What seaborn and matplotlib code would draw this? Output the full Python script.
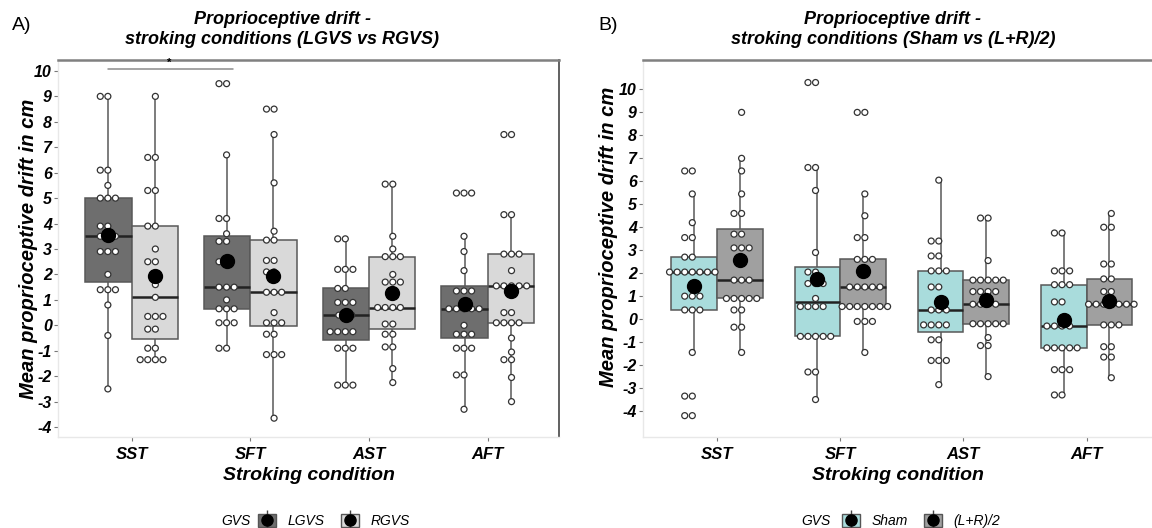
import matplotlib
matplotlib.use("Agg")
import numpy as np
import pandas as pd
import matplotlib.pyplot as plt
from matplotlib.patches import Patch
from matplotlib.lines import Line2D
from matplotlib.legend_handler import HandlerTuple
import seaborn as sns

# categories
conditions = ["SST", "SFT", "AST", "AFT"]
y_ticks = list(range(-4, 11))

# Panel A: LGVS vs RGVS
a_groups = ["LGVS", "RGVS"]
a_sst_l = [9.0, 9.0, 6.1, 6.1, 5.5, 5.0, 5.0, 5.0, 3.9, 3.9, 3.5, 3.5, 3.5, 2.9, 2.9, 2.9,
           2.0, 1.4, 1.4, 1.4, 0.8, -0.4, -2.5]
a_sst_r = [9.0, 6.6, 6.6, 5.3, 5.3, 3.9, 3.9, 3.0, 2.5, 2.5, 1.6, 1.1, 0.35, 0.35, 0.35,
           -0.15, -0.15, -0.9, -0.9, -1.35, -1.35, -1.35, -1.35]
a_sft_l = [9.5, 9.5, 6.7, 4.2, 4.2, 3.6, 3.3, 3.3, 2.5, 2.5, 1.5, 1.5, 1.5, 1.0, 0.65, 0.65,
           0.65, 0.1, 0.1, 0.1, -0.9, -0.9]
a_sft_r = [8.5, 8.5, 7.5, 5.6, 3.7, 3.35, 3.35, 2.55, 2.55, 2.1, 2.1, 1.3, 1.3, 1.3, 0.5,
           0.1, 0.1, 0.1, -0.35, -0.35, -1.15, -1.15, -1.15, -3.65]
a_ast_l = [3.4, 3.4, 2.2, 2.2, 2.2, 1.45, 1.45, 0.9, 0.9, 0.9, 0.4, 0.4, 0.25, -0.25, -0.25,
           -0.25, -0.25, -0.9, -0.9, -0.9, -2.35, -2.35, -2.35]
a_ast_r = [5.55, 5.55, 3.5, 3.0, 2.7, 2.7, 2.7, 2.0, 1.7, 1.7, 1.7, 0.7, 0.7, 0.7, 0.7,
           0.05, 0.05, -0.35, -0.35, -0.85, -0.85, -1.7, -2.25]
a_aft_l = [5.2, 5.2, 5.2, 3.5, 2.9, 2.15, 1.35, 1.35, 1.35, 0.65, 0.65, 0.65, 0.65, 0.65,
           0.0, -0.35, -0.35, -0.35, -0.9, -0.9, -0.9, -1.95, -1.95, -3.3]
a_aft_r = [7.5, 7.5, 4.35, 4.35, 2.8, 2.8, 2.8, 2.15, 1.55, 1.55, 1.55, 1.55, 1.55, 0.5,
           0.5, 0.1, 0.1, 0.1, 0.1, -0.5, -1.05, -1.35, -1.35, -2.05, -3.0]

# Panel B: Sham vs (L+R)/2
b_groups = ["Sham", "(L+R)/2"]
b_sst_s = [6.45, 6.45, 5.45, 4.2, 3.55, 3.55, 2.7, 2.7, 2.05, 2.05, 2.05, 2.05, 2.05, 2.05,
           2.05, 1.0, 1.0, 1.0, 0.4, 0.4, 0.4, -1.45, -3.35, -3.35, -4.2, -4.2]
b_sst_a = [9.0, 7.0, 6.45, 5.45, 4.6, 4.6, 3.7, 3.7, 3.1, 3.1, 3.1, 1.7, 1.7, 1.7, 0.9, 0.9,
           0.9, 0.9, 0.9, 0.4, 0.4, -0.35, -0.35, -1.45]
b_sft_s = [10.3, 10.3, 6.6, 6.6, 5.6, 2.9, 2.05, 2.05, 1.55, 1.55, 1.55, 0.9, 0.55, 0.55,
           0.55, 0.55, -0.75, -0.75, -0.75, -0.75, -0.75, -2.3, -2.3, -3.5]
b_sft_a = [9.0, 9.0, 5.45, 4.5, 3.55, 3.55, 2.6, 2.6, 2.6, 1.4, 1.4, 1.4, 1.4, 1.4, 0.55,
           0.55, 0.55, 0.55, 0.55, 0.55, 0.55, -0.1, -0.1, -0.1, -1.45]
b_ast_s = [6.05, 3.4, 3.4, 2.75, 2.75, 2.1, 2.1, 2.1, 1.4, 1.4, 0.4, 0.4, 0.4, -0.25, -0.25,
           -0.25, -0.25, -0.9, -0.9, -1.8, -1.8, -1.8, -2.85]
b_ast_a = [4.4, 4.4, 2.55, 1.7, 1.7, 1.7, 1.7, 1.7, 1.2, 1.2, 1.2, 1.2, 0.65, 0.65, 0.65,
           0.65, -0.2, -0.2, -0.2, -0.2, -0.2, -0.8, -1.15, -1.15, -2.5]
b_aft_s = [3.75, 3.75, 2.1, 2.1, 2.1, 1.5, 1.5, 1.5, 0.75, 0.75, -0.3, -0.3, -0.3, -0.3,
           -1.25, -1.25, -1.25, -1.25, -1.25, -2.2, -2.2, -2.2, -3.3, -3.3]
b_aft_a = [4.6, 4.0, 4.0, 2.4, 2.4, 1.75, 1.75, 1.2, 1.2, 0.65, 0.65, 0.65, 0.65, 0.65, 0.65,
           0.65, -0.25, -0.25, -0.25, -1.2, -1.2, -1.65, -1.65, -2.55]

a_colors = ["#6e6e6e", "#d9d9d9"]
b_colors = ["#a9dcdc", "#a0a0a0"]


def long_table(pairs, groups):
    rows = []
    for cond, pair in zip(conditions, pairs):
        for g, vals in zip(groups, pair):
            for v in vals:
                rows.append((cond, g, v))
    return pd.DataFrame(rows, columns=["condition", "GVS", "drift"])


df_a = long_table([(a_sst_l, a_sst_r), (a_sft_l, a_sft_r),
                   (a_ast_l, a_ast_r), (a_aft_l, a_aft_r)], a_groups)
df_b = long_table([(b_sst_s, b_sst_a), (b_sft_s, b_sft_a),
                   (b_ast_s, b_ast_a), (b_aft_s, b_aft_a)], b_groups)

sns.set_theme(style="white")
plt.rcParams["font.family"] = ["Liberation Sans", "DejaVu Sans"]
plt.rcParams["text.color"] = "black"
plt.rcParams["axes.labelcolor"] = "black"
plt.rcParams["xtick.labelcolor"] = "black"
plt.rcParams["ytick.labelcolor"] = "black"

fig = plt.figure(figsize=(11.52, 5.28), dpi=100)
ax_a = fig.add_axes([58 / 1152, 91 / 528, 501 / 1152, 377 / 528])
ax_b = fig.add_axes([643 / 1152, 91 / 528, 509 / 1152, 377 / 528])


def draw_panel(ax, df, groups, colors, width):
    pal = dict(zip(groups, colors))
    sns.boxplot(data=df, x="condition", y="drift", hue="GVS", order=conditions,
                hue_order=groups, palette=pal, saturation=1, width=width, gap=0,
                showfliers=False, showcaps=False, showmeans=True,
                linecolor="#585858", linewidth=1.1,
                medianprops=dict(color="#222222", linewidth=1.8),
                meanprops=dict(marker="o", markerfacecolor="black",
                               markeredgecolor="black", markersize=10, zorder=6),
                legend=False, ax=ax)
    sns.swarmplot(data=df, x="condition", y="drift", hue="GVS", order=conditions,
                  hue_order=groups, palette=dict(zip(groups, ["white", "white"])),
                  dodge=True, size=4.3, edgecolor="#333333", linewidth=0.9,
                  legend=False, ax=ax, zorder=4)
    ax.set_yticks(y_ticks)
    ax.set_yticklabels([str(t) for t in y_ticks], fontsize=11.5, fontweight="bold",
                       fontstyle="italic")
    ax.set_xticks(range(len(conditions)))
    ax.set_xticklabels(conditions, fontsize=12, fontweight="bold", fontstyle="italic")
    ax.tick_params(axis="y", length=3, width=0.8, color="#777777", pad=1.5, left=True)
    ax.tick_params(axis="x", length=3, width=0.8, color="#777777", pad=4, bottom=True)
    ax.set_xlabel("Stroking condition", fontsize=14, fontweight="bold", fontstyle="italic")
    ax.xaxis.set_label_coords(0.5, -0.08)
    ax.grid(False)
    for side in ["left", "bottom"]:
        ax.spines[side].set_color("#e8e8e8")
        ax.spines[side].set_linewidth(1)
    ax.spines["top"].set_color("#808080")
    ax.spines["top"].set_linewidth(1.8)


draw_panel(ax_a, df_a, a_groups, a_colors, 0.78)
draw_panel(ax_b, df_b, b_groups, b_colors, 0.74)

ylab_kw = dict(fontsize=14.5, fontweight="bold", fontstyle="italic")
ax_a.set_ylabel("Mean proprioceptive drift in cm", **ylab_kw)
ax_a.yaxis.set_label_coords(-0.04, 0.5)
ax_b.set_ylabel("Mean proprioceptive drift in cm", **ylab_kw)
ax_b.yaxis.set_label_coords(-0.05, 0.53)

ax_a.set_xlim(-0.62, 3.6)
ax_a.set_ylim(-4.39, 10.43)
ax_a.spines["right"].set_color("#606060")
ax_a.spines["right"].set_linewidth(1.4)

ax_b.set_xlim(-0.6, 3.53)
ax_b.set_ylim(-5.13, 11.28)
ax_b.spines["right"].set_visible(False)

# significance bracket SST vs SFT (LGVS)
ax_a.plot([-0.2, 0.85], [10.08, 10.08], color="#8c8c8c", linewidth=1.1, zorder=3)
ax_a.text(0.32, 10.12, "*", ha="center", va="bottom", fontsize=8, fontweight="bold")

# titles and panel letters
title_kw = dict(ha="center", va="center", fontsize=13, fontweight="bold", fontstyle="italic")
fig.text(282 / 1152, 1 - 20 / 528, "Proprioceptive drift -", **title_kw)
fig.text(282 / 1152, 1 - 40 / 528, "stroking conditions (LGVS vs RGVS)", **title_kw)
fig.text(893 / 1152, 1 - 20 / 528, "Proprioceptive drift -", **title_kw)
fig.text(893 / 1152, 1 - 40 / 528, "stroking conditions (Sham vs (L+R)/2)", **title_kw)
fig.text(12 / 1152, 1 - 25 / 528, "A)", ha="left", va="center", fontsize=14)
fig.text(598 / 1152, 1 - 25 / 528, "B)", ha="left", va="center", fontsize=14)


def add_legend(ax, groups, colors, title_x, center_x):
    handles = []
    for c in colors:
        handles.append((Patch(facecolor=c, edgecolor="#555555", linewidth=1),
                        Line2D([], [], linestyle="none", marker="|", markersize=15,
                               color="#444444", markeredgewidth=1),
                        Line2D([], [], linestyle="none", marker="o", markersize=8,
                               markerfacecolor="black", markeredgecolor="black")))
    ax.legend(handles, groups, handler_map={tuple: HandlerTuple(ndivide=1)},
              ncol=2, frameon=False, loc="center",
              bbox_to_anchor=(center_x / 1152, 1 - 521 / 528),
              bbox_transform=fig.transFigure, prop=dict(size=10, style="italic"),
              handlelength=1.3, handleheight=1.1, handletextpad=0.8, columnspacing=1.2)
    fig.text(title_x / 1152, 1 - 521 / 528, "GVS", ha="center", va="center",
             fontsize=10, fontstyle="italic")


add_legend(ax_a, a_groups, a_colors, 236, 334)
add_legend(ax_b, b_groups, b_colors, 816, 921)

fig.savefig("out.png", dpi=100)
